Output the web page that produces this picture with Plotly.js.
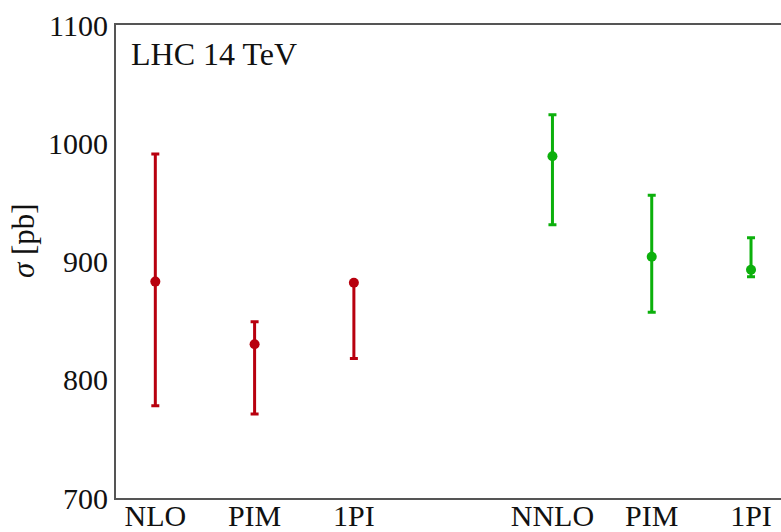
<!DOCTYPE html>
<html>
<head>
<meta charset="utf-8">
<script src="https://cdn.plot.ly/plotly-3.0.1.min.js"></script>
<style>html,body{margin:0;padding:0;background:#fff;}#chart{width:781px;height:532px;}</style>
</head>
<body>
<div id="chart"></div>
<script>
// Data
const nloLabels = ["NLO", "PIM", "1PI"];
const nloPos = [1, 2, 3];
const nloCentral = [883, 830, 882];
const nloUpper = [991, 849, 882];
const nloLower = [778, 771, 818];

const nnloLabels = ["NNLO", "PIM", "1PI"];
const nnloPos = [5, 6, 7];
const nnloCentral = [989, 904, 893];
const nnloUpper = [1024, 956, 920];
const nnloLower = [931, 857, 887];

const yTicks = [700, 800, 900, 1000, 1100];

function errTrace(pos, c, up, lo, color) {
  return {
    type: "scatter", mode: "markers", x: pos, y: c,
    marker: {color: color, size: 10},
    error_y: {type: "data", symmetric: false,
      array: c.map((v, i) => up[i] - v),
      arrayminus: c.map((v, i) => v - lo[i]),
      color: color, thickness: 3, width: 4},
    showlegend: false, hoverinfo: "none"
  };
}

const red = "#b8000e";
const green = "#0cb00c";
const data = [
  errTrace(nloPos, nloCentral, nloUpper, nloLower, red),
  errTrace(nnloPos, nnloCentral, nnloUpper, nnloLower, green)
];

const serif = "Liberation Serif, Times New Roman, serif";
const layout = {
  width: 781, height: 532,
  margin: {l: 116, r: 0, t: 25, b: 34},
  paper_bgcolor: "#fff", plot_bgcolor: "#fff",
  font: {family: serif, size: 30, color: "#111"},
  xaxis: {
    range: [0.604, 7.302], showgrid: false, zeroline: false,
    showline: true, mirror: true, linecolor: "#555", linewidth: 2,
    tickvals: nloPos.concat(nnloPos), ticktext: nloLabels.concat(nnloLabels),
    ticks: "", ticklabelstandoff: -10, tickfont: {family: serif, size: 30, color: "#111"}
  },
  yaxis: {
    range: [700, 1100], showgrid: false, zeroline: false,
    showline: true, mirror: false, linecolor: "#555", linewidth: 2,
    tickvals: yTicks, ticks: "", ticklabelstandoff: 0,
    tickfont: {family: serif, size: 30, color: "#111"}
  },
  annotations: [
    {text: "LHC 14 TeV", xref: "paper", yref: "paper", x: 0.02, y: 0.98,
     xanchor: "left", yanchor: "top", showarrow: false,
     font: {family: serif, size: 32, color: "#111"}},
    {text: "<i>σ</i> [pb]", xref: "paper", yref: "paper", x: -0.14, y: 0.545,
     xanchor: "center", yanchor: "middle", textangle: -90, showarrow: false,
     font: {family: serif, size: 31, color: "#111"}}
  ]
};
Plotly.newPlot("chart", data, layout, {staticPlot: true});
</script>
</body>
</html>
